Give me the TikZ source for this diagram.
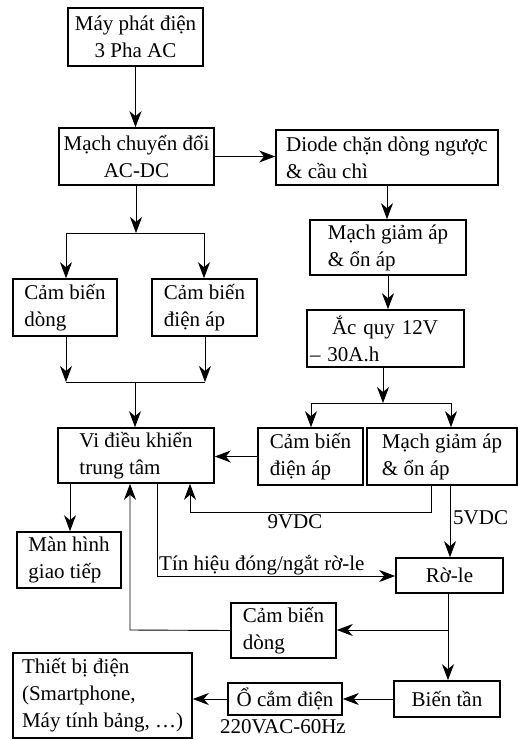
\documentclass[tikz,border=0pt]{standalone}
\usepackage{fontspec}
\setmainfont{Liberation Serif}
\usetikzlibrary{arrows.meta,calc}
\begin{document}
\begin{tikzpicture}[x=1pt,y=-1pt,
  box/.style={draw,line width=1.6pt,inner sep=2pt,align=left,font=\fontsize{21}{27}\selectfont},
  lbl/.style={inner sep=0pt,font=\fontsize{21}{27}\selectfont},
  arr/.style={line width=0.9pt,-{Stealth[length=16pt,width=12pt,inset=5pt]}},
  ln/.style={line width=0.9pt}]
\useasboundingbox (0,0) rectangle (518,740);
% boxes
\node[box,align=center,minimum width=135pt,minimum height=58pt] (gen) at (135.5,37) {Máy phát điện\\3 Pha AC};
\node[box,align=center,minimum width=155pt,minimum height=57pt] (acdc) at (136.5,156.5) {Mạch chuyển đổi\\AC-DC};
\node[box,minimum width=222pt,minimum height=55pt] (diode) at (387,157.5) {Diode chặn dòng ngược\\\& cầu chì};
\node[box,minimum width=156pt,minimum height=55pt] (reg1) at (388,247.5) {Mạch giảm áp\\\& ổn áp};
\node[box,minimum width=104pt,minimum height=57pt] (csI) at (65,307.5) {Cảm biến\\dòng};
\node[box,minimum width=105pt,minimum height=57pt] (csV) at (204.5,307.5) {Cảm biến\\điện áp};
\node[box,text width=151pt,inner xsep=3pt,minimum height=57pt] (bat) at (385.5,338.5) {\hspace*{22pt}Ắc quy 12V\\– 30A.h};
\node[box,minimum width=156pt,minimum height=55pt] (mcu) at (136,455.5) {Vi điều khiển\\trung tâm};
\node[box,minimum width=105pt,minimum height=57pt] (csV2) at (310.5,456.5) {Cảm biến\\điện áp};
\node[box,minimum width=150pt,minimum height=57pt] (reg2) at (442,456.5) {Mạch giảm áp\\\& ổn áp};
\node[box,minimum width=104pt,minimum height=56pt] (lcd) at (69,560) {Màn hình\\giao tiếp};
\node[box,align=center,minimum width=107pt,minimum height=35pt] (relay) at (449.5,575.5) {Rờ-le};
\node[box,minimum width=105pt,minimum height=55pt] (csI2) at (283.5,630.5) {Cảm biến\\dòng};
\node[box,align=center,minimum width=106pt,minimum height=36pt] (inv) at (447,699) {Biến tần};
\node[box,align=center,minimum width=114pt,minimum height=32pt] (sock) at (285,699) {Ổ cắm điện};
\node[box,minimum width=179pt,minimum height=85pt] (dev) at (102.5,695.5) {Thiết bị điện\\(Smartphone,\\Máy tính bảng, …)};
% labels
\node[lbl,anchor=base] (v9) at (295,528) {9VDC};
\node[lbl,anchor=base west] (v5) at (453,524) {5VDC};
\node[lbl,anchor=base west] (sig) at (159,570) {Tín hiệu đóng/ngắt rờ-le};
\node[lbl,anchor=base] (f220) at (283,733.5) {220VAC-60Hz};
% helper coordinates
\coordinate (j1) at (136,233);
\coordinate (j1l) at (66,233);
\coordinate (j1r) at (204,233);
\coordinate (j2) at (135,382);
\coordinate (j2l) at (66,382);
\coordinate (j2r) at (205,382);
\coordinate (j3) at (383,403);
\coordinate (j3l) at (311,403);
\coordinate (j3r) at (451,403);
\coordinate (c9) at (190,512);
\coordinate (c9r) at (431,512);
\coordinate (x5) at (450,520);
\coordinate (x70) at (70,500);
\coordinate (t1) at (157,576);
\coordinate (x448) at (448,630);
\coordinate (c130) at (130,630);
% connectors
\draw[arr] (gen.south) -- (gen.south |- acdc.north);
\draw[arr] (acdc.east) -- (acdc.east -| diode.west);
\draw[arr] (diode.south) -- (diode.south |- reg1.north);
\draw[arr] (acdc.south -| j1) -- (j1);
\draw[ln] (j1l) -- (j1r);
\draw[arr] (j1l) -- (j1l |- csI.north);
\draw[arr] (j1r) -- (j1r |- csV.north);
\draw[arr] (csI.south -| j2l) -- (j2l);
\draw[arr] (csV.south -| j2r) -- (j2r);
\draw[ln] (j2l) -- (j2r);
\draw[arr] (j2) -- (j2 |- mcu.north);
\draw[arr] (reg1.south) -- (reg1.south |- bat.north);
\draw[arr] (bat.south -| j3) -- (j3);
\draw[ln] (j3l) -- (j3r);
\draw[arr] (j3l) -- (j3l |- csV2.north);
\draw[arr] (j3r) -- (j3r |- reg2.north);
\draw[arr] (csV2.west) -- (csV2.west -| mcu.east);
\draw[arr] (reg2.south -| c9r) -- (c9r) -- (c9) -- (c9 |- mcu.south);
\draw[arr] (reg2.south -| x5) -- (relay.north -| x5);
\draw[arr] (mcu.south -| x70) -- (lcd.north -| x70);
\draw[arr] (mcu.south -| t1) -- (t1) -- (t1 -| relay.west);
\draw[arr] (relay.south -| x448) -- (inv.north -| x448);
\draw[arr] (x448) -- (x448 -| csI2.east);
\draw[arr] (csI2.west) -- (c130) -- (c130 |- mcu.south);
\draw[arr] (inv.west) -- (sock.east);
\draw[arr] (sock.west) -- (sock.west -| dev.east);
\end{tikzpicture}
\end{document}
